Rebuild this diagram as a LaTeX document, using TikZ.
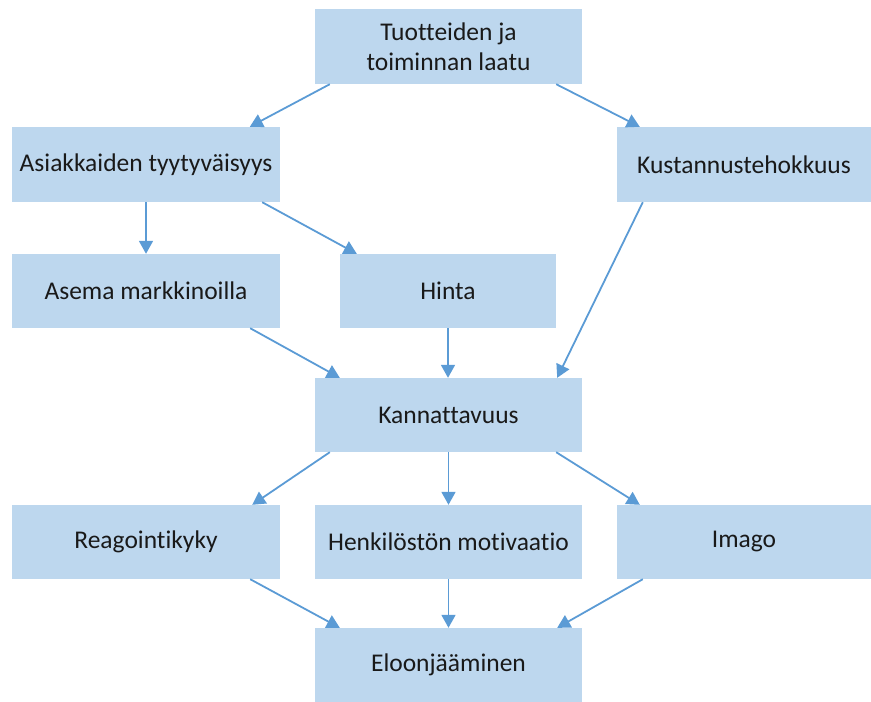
\documentclass[tikz,border=0pt]{standalone}
\usepackage{fontspec}
\setmainfont[Ligatures=NoCommon]{Carlito}
\usetikzlibrary{arrows.meta}
\definecolor{boxfill}{HTML}{BDD7EE}
\definecolor{arrowc}{HTML}{5B9BD5}
\begin{document}
\begin{tikzpicture}[x=1pt,y=-1pt,
  box/.style={rectangle, fill=boxfill, draw=none, inner sep=0pt, align=center,
    font=\fontsize{25.5}{30}\selectfont, text=black!90},
  conn/.style={draw=arrowc, line width=1.8pt, -{Triangle[length=13pt,width=14pt]}}]
\useasboundingbox (0,0) rectangle (871,702);
\node[box, minimum width=267, minimum height=75] (top) at (448.5,46.5) {Tuotteiden ja\\toiminnan laatu};
\node[box, minimum width=268, minimum height=75] (asia) at (146,164.5) {Asiakkaiden tyytyväisyys};
\node[box, minimum width=254, minimum height=75] (kust) at (744,164.5) {Kustannustehokkuus};
\node[box, minimum width=268, minimum height=74] (asema) at (146,291) {Asema markkinoilla};
\node[box, minimum width=216, minimum height=74] (hinta) at (448,291) {Hinta};
\node[box, minimum width=267, minimum height=74] (kann) at (448.5,415) {Kannattavuus};
\node[box, minimum width=268, minimum height=74] (reag) at (146,542) {Reagointikyky};
\node[box, minimum width=267, minimum height=74] (henk) at (448.5,542) {Henkilöstön motivaatio};
\node[box, minimum width=254, minimum height=74] (imago) at (744,542) {Imago};
\node[box, minimum width=267, minimum height=74] (elo) at (448.5,665) {Eloonjääminen};

\draw[conn] ([xshift=15pt]top.south west) -- ([xshift=238pt]asia.north west);
\draw[conn] ([xshift=-26pt]top.south east) -- ([xshift=23pt]kust.north west);
\draw[conn] (asia.south) -- (asema.north);
\draw[conn] ([xshift=-18pt]asia.south east) -- ([xshift=17pt]hinta.north west);
\draw[conn] ([xshift=26pt]kust.south west) -- ([xshift=-25pt]kann.north east);
\draw[conn] ([xshift=-30pt]asema.south east) -- ([xshift=25pt]kann.north west);
\draw[conn] (hinta.south) -- (hinta.south |- kann.north);
\draw[conn] ([xshift=15pt]kann.south west) -- ([xshift=-28pt]reag.north east);
\draw[conn] (kann.south) -- (henk.north);
\draw[conn] ([xshift=-26pt]kann.south east) -- ([xshift=23pt]imago.north west);
\draw[conn] ([xshift=-30pt]reag.south east) -- ([xshift=25pt]elo.north west);
\draw[conn] (henk.south) -- (elo.north);
\draw[conn] ([xshift=26pt]imago.south west) -- ([xshift=-25pt]elo.north east);
\end{tikzpicture}
\end{document}
